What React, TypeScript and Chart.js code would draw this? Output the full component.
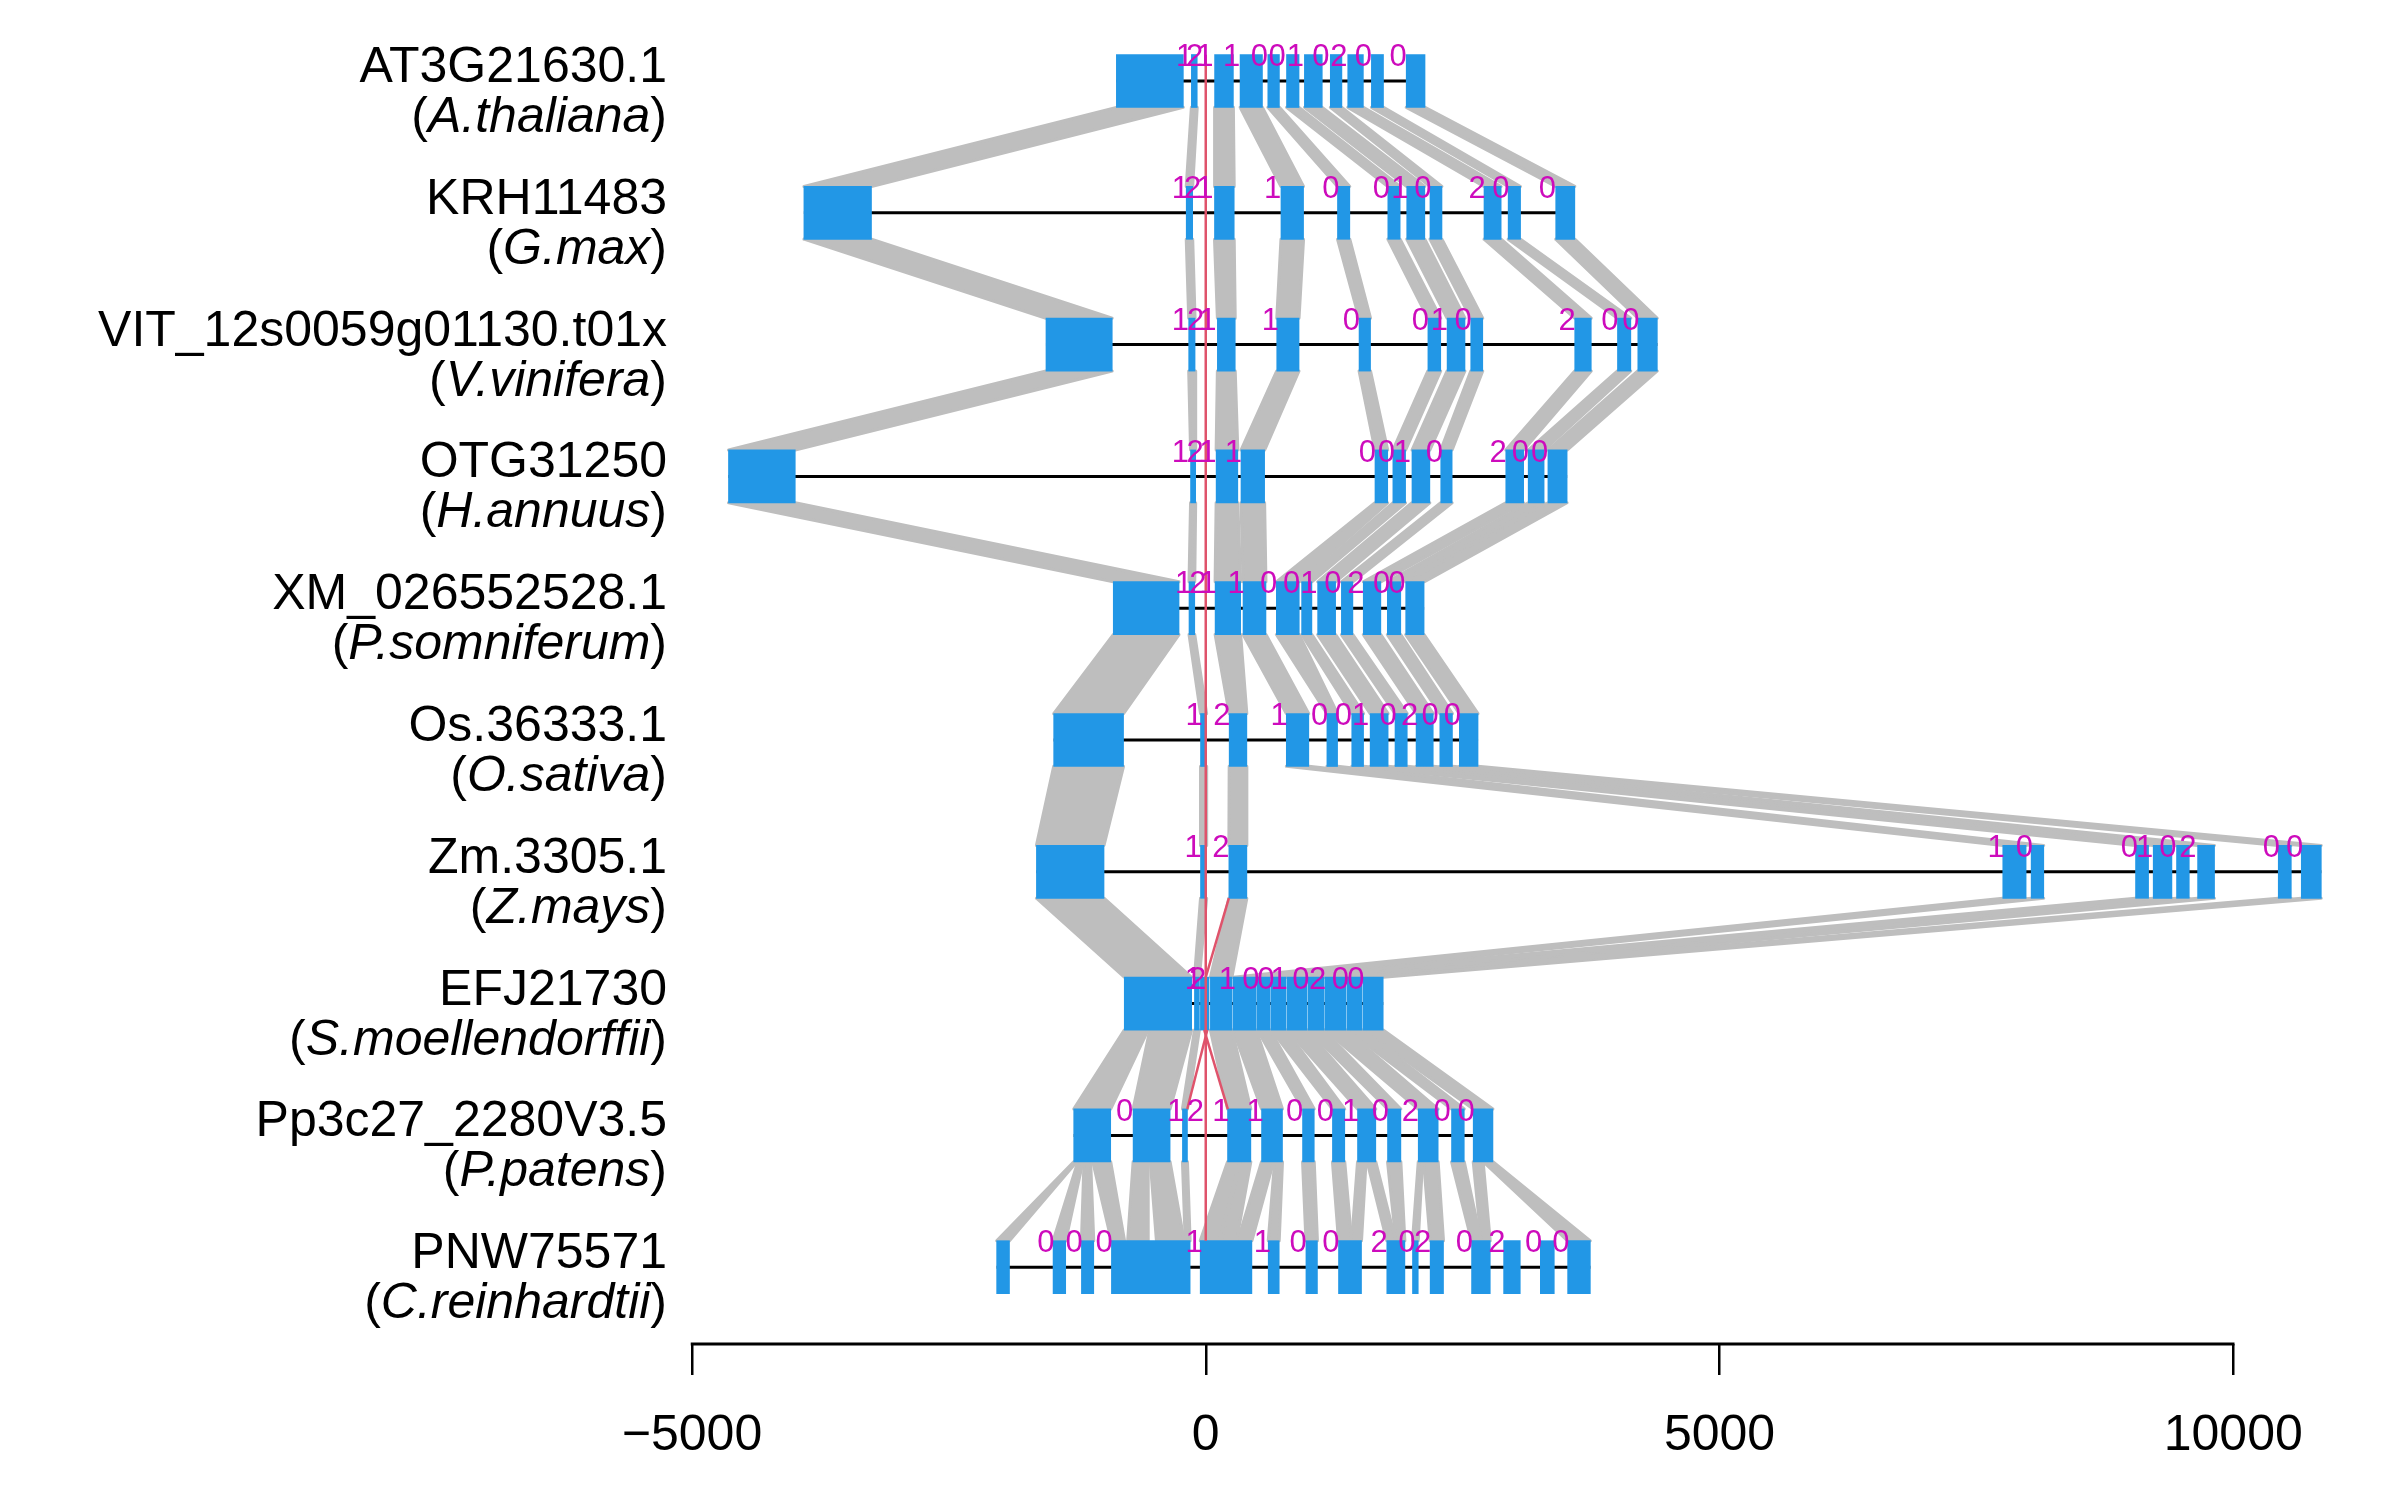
import React, { useEffect, useRef } from 'react';
import { Chart, registerables } from 'chart.js';

Chart.register(...registerables);

const FONT = "'Liberation Sans', Arial, Helvetica, sans-serif";

const GENES = ['AT3G21630.1', 'KRH11483', 'VIT_12s0059g01130.t01x', 'OTG31250', 'XM_026552528.1', 'Os.36333.1', 'Zm.3305.1', 'EFJ21730', 'Pp3c27_2280V3.5', 'PNW75571'];
const SPECIES = ['A.thaliana', 'G.max', 'V.vinifera', 'H.annuus', 'P.somniferum', 'O.sativa', 'Z.mays', 'S.moellendorffii', 'P.patens', 'C.reinhardtii'];

const TICKS = [-5000, 0, 5000, 10000];

// exon [start, end] per gene
const EXONS_AT = [[-870, -218], [-140, -83], [86, 269], [334, 552], [604, 717], [786, 908], [960, 1134], [1212, 1325], [1382, 1534], [1612, 1730], [1951, 2134]];
const EXONS_KRH = [[-3911, -3253], [-190, -127], [85, 277], [732, 952], [1282, 1402], [1772, 1892], [1956, 2132], [2182, 2299], [2708, 2875], [2943, 3064], [3406, 3592]];
const EXONS_VIT = [[-1555, -910], [-166, -104], [113, 287], [691, 908], [1492, 1604], [2162, 2287], [2349, 2523], [2579, 2696], [3591, 3752], [4007, 4137], [4205, 4395]];
const EXONS_OTG = [[-4645, -3995], [-148, -98], [101, 312], [343, 573], [1647, 1771], [1821, 1945], [2007, 2181], [2287, 2398], [2920, 3094], [3138, 3293], [3330, 3517]];
const EXONS_XM = [[-900, -260], [-163, -107], [91, 340], [363, 586], [687, 910], [933, 1033], [1089, 1264], [1320, 1432], [1533, 1704], [1767, 1898], [1946, 2125]];
const EXONS_OS = [[-1480, -800], [-51, 9], [228, 400], [784, 1003], [1179, 1283], [1421, 1536], [1600, 1775], [1842, 1961], [2047, 2214], [2278, 2401], [2468, 2650]];
const EXONS_ZM = [[-1648, -990], [-51, 9], [225, 400], [7757, 7984], [8033, 8156], [9049, 9176], [9221, 9403], [9448, 9572], [9653, 9818], [10438, 10565], [10662, 10857]];
const EXONS_EFJ = [[-793, -137], [-110, -62], [-52, 32], [45, 255], [265, 492], [502, 628], [638, 781], [791, 985], [995, 1148], [1158, 1365], [1375, 1521], [1531, 1727]];
const EXONS_PP = [[-1285, -925], [-707, -347], [-227, -178], [212, 439], [543, 747], [942, 1056], [1233, 1353], [1477, 1655], [1769, 1899], [2068, 2262], [2392, 2516], [2603, 2795]];
const EXONS_PNW = [[-2035, -1910], [-1486, -1363], [-1210, -1090], [-918, -152], [-54, 449], [608, 715], [975, 1087], [1292, 1516], [1762, 1938], [2012, 2068], [2184, 2314], [2587, 2769], [2899, 3061], [3256, 3392], [3522, 3743]];
const EXONS = [EXONS_AT, EXONS_KRH, EXONS_VIT, EXONS_OTG, EXONS_XM, EXONS_OS, EXONS_ZM, EXONS_EFJ, EXONS_PP, EXONS_PNW];

// intron phase labels [position, text]
const PH_AT = [[-205, '1'], [-109, '2'], [-9, '1'], [252, '1'], [521, '0'], [695, '0'], [873, '1'], [1121, '0'], [1295, '2'], [1534, '0'], [1873, '0']];
const PH_KRH = [[-248, '1'], [-127, '2'], [-9, '1'], [652, '1'], [1217, '0'], [1708, '0'], [1890, '1'], [2112, '0'], [2642, '2'], [2873, '0'], [3325, '0']];
const PH_VIT = [[-247, '1'], [-98, '2'], [20, '1'], [629, '1'], [1417, '0'], [2088, '0'], [2274, '1'], [2504, '0'], [3516, '2'], [3932, '0'], [4137, '0']];
const PH_OTG = [[-247, '1'], [-104, '2'], [20, '1'], [268, '1'], [1572, '0'], [1759, '0'], [1914, '1'], [2225, '0'], [2846, '2'], [3063, '0'], [3250, '0']];
const PH_XM = [[-215, '1'], [-77, '2'], [24, '1'], [296, '1'], [612, '0'], [836, '0'], [1003, '1'], [1238, '0'], [1462, '2'], [1711, '0'], [1860, '0']];
const PH_OS = [[-114, '1'], [158, '2'], [713, '1'], [1108, '0'], [1339, '0'], [1507, '1'], [1775, '0'], [1983, '2'], [2184, '0'], [2401, '0']];
const PH_ZM = [[-122, '1'], [146, '2'], [7692, '1'], [7968, '0'], [8990, '0'], [9137, '1'], [9364, '0'], [9559, '2'], [10370, '0'], [10597, '0']];
const PH_EFJ = [[-120, '1'], [-80, '2'], [211, '1'], [439, '0'], [585, '0'], [715, '1'], [926, '0'], [1088, '2'], [1309, '0'], [1461, '0']];
const PH_PP = [[-790, '0'], [-290, '1'], [-100, '2'], [147, '1'], [480, '1'], [864, '0'], [1165, '0'], [1410, '1'], [1699, '0'], [1992, '2'], [2300, '0'], [2535, '0']];
const PH_PNW = [[-1557, '0'], [-1282, '0'], [-989, '0'], [-113, '1'], [552, '1'], [900, '0'], [1217, '0'], [1688, '2'], [1957, '0'], [2110, '2'], [2516, '0'], [2834, '2'], [3191, '0'], [3457, '0']];
const PHASES = [PH_AT, PH_KRH, PH_VIT, PH_OTG, PH_XM, PH_OS, PH_ZM, PH_EFJ, PH_PP, PH_PNW];

// exon index links Zm -> EFJ
const LINKS_ZM_EFJ = [[0, 0], [1, 1], [2, 3], [3, 4], [4, 5], [5, 6], [6, 7], [7, 8], [8, 9], [9, 10], [10, 11]];
// segment links EFJ -> Pp
const SEG_EFJ_PP = [
  [[-793, -560], [-1285, -925]], [[-545, -137], [-707, -347]], [[-110, -62], [-227, -178]], [[45, 255], [212, 439]],
  [[265, 492], [543, 747]], [[502, 628], [942, 1056]], [[638, 781], [1233, 1353]], [[791, 985], [1477, 1655]],
  [[995, 1148], [1769, 1899]], [[1158, 1365], [2068, 2262]], [[1375, 1521], [2392, 2516]], [[1531, 1727], [2603, 2795]],
];
// segment links Pp -> PNW
const SEG_PP_PNW = [
  [[-1285, -1255], [-2035, -1910]], [[-1245, -1195], [-1486, -1363]], [[-1185, -1120], [-1210, -1090]], [[-1100, -925], [-918, -790]],
  [[-707, -560], [-760, -560]], [[-540, -347], [-480, -210]], [[-227, -178], [-200, -152]], [[212, 330], [-54, 130]],
  [[340, 439], [150, 300]], [[543, 660], [310, 449]], [[670, 747], [608, 715]], [[942, 1056], [975, 1087]],
  [[1233, 1353], [1292, 1420]], [[1477, 1560], [1420, 1516]], [[1570, 1655], [1762, 1850]], [[1769, 1899], [1850, 1938]],
  [[2068, 2110], [2012, 2068]], [[2120, 2262], [2184, 2314]], [[2392, 2516], [2587, 2680]], [[2603, 2700], [2680, 2769]],
  [[2700, 2795], [3522, 3743]],
];

// red guide paths: [position, row coordinate]
const RED_PATHS = [
  [[0, 0.8], [0, 9.8]],
  [[225, 7.2], [0, 7.8]],
  [[15, 8.2], [-180, 8.8]],
  [[-15, 8.2], [215, 8.8]],
];

const HALF = 0.2;
const BLUE = '#2297E6';
const GREY = '#BEBEBE';
const RED = '#DF536B';
const MAGENTA = '#CD0BBC';

export default function App() {
  const ref = useRef<HTMLCanvasElement | null>(null);

  useEffect(() => {
    const canvas = ref.current;
    if (!canvas) return;
    const rowY = (k: number) => k + 1;

    const exonData: any[] = [];
    EXONS.forEach((ex, k) => ex.forEach(([s, e]) => exonData.push({ x: [s, e], y: rowY(k) })));

    const conns: any[] = [];
    for (let k = 0; k < 6; k++) {
      EXONS[k].forEach((a, i) => conns.push([k, a, EXONS[k + 1][i]]));
    }
    LINKS_ZM_EFJ.forEach(([i, j]) => conns.push([6, EXONS_ZM[i], EXONS_EFJ[j]]));
    SEG_EFJ_PP.forEach(([a, b]) => conns.push([7, a, b]));
    SEG_PP_PNW.forEach(([a, b]) => conns.push([8, a, b]));

    const connDatasets = conns.map(([k, a, b]) => ({
      type: 'scatter',
      showLine: true,
      fill: 'shape',
      backgroundColor: GREY,
      borderColor: GREY,
      borderWidth: 3,
      borderJoinStyle: 'round',
      borderCapStyle: 'round',
      pointRadius: 0,
      order: 3,
      data: [
        { x: a[0], y: rowY(k) + HALF },
        { x: a[1], y: rowY(k) + HALF },
        { x: b[1], y: rowY(k + 1) - HALF },
        { x: b[0], y: rowY(k + 1) - HALF },
        { x: a[0], y: rowY(k) + HALF },
      ],
    }));

    const intronDatasets = EXONS.map((ex, k) => ({
      type: 'scatter',
      showLine: true,
      borderColor: '#000',
      borderWidth: 3,
      pointRadius: 0,
      fill: false,
      order: 2,
      data: [{ x: ex[0][0], y: rowY(k) }, { x: ex[ex.length - 1][1], y: rowY(k) }],
    }));

    const redDatasets = RED_PATHS.map((p) => ({
      type: 'scatter',
      showLine: true,
      borderColor: RED,
      borderWidth: 2.5,
      pointRadius: 0,
      fill: false,
      order: 0,
      data: p.map(([x, y]) => ({ x, y })),
    }));

    const exonDataset = {
      type: 'bar',
      indexAxis: 'y',
      data: exonData,
      backgroundColor: BLUE,
      borderWidth: 0,
      barThickness: 53,
      order: 1,
    };

    const labelPlugin = {
      id: 'geneLabels',
      afterDatasetsDraw(chart: any) {
        const ctx = chart.ctx;
        const xs = chart.scales.x;
        const ys = chart.scales.y;
        const area = chart.chartArea;
        ctx.save();
        // axis line from first to last tick
        ctx.strokeStyle = '#000';
        ctx.lineWidth = 3;
        ctx.beginPath();
        ctx.moveTo(xs.getPixelForValue(TICKS[0]) - 1.25, area.bottom);
        ctx.lineTo(xs.getPixelForValue(TICKS[TICKS.length - 1]) + 1.25, area.bottom);
        ctx.stroke();

        // phase labels
        ctx.fillStyle = MAGENTA;
        ctx.font = `31px ${FONT}`;
        ctx.textAlign = 'center';
        ctx.textBaseline = 'middle';
        PHASES.forEach((list, k) => {
          list.forEach(([v, t]) => {
            ctx.fillText(String(t), xs.getPixelForValue(v as number), ys.getPixelForValue(rowY(k) - HALF) + 3);
          });
        });

        // row labels
        const right = area.left - 25;
        ctx.fillStyle = '#000';
        ctx.textBaseline = 'alphabetic';
        GENES.forEach((g, k) => {
          const py = ys.getPixelForValue(rowY(k));
          ctx.font = `50px ${FONT}`;
          ctx.textAlign = 'right';
          ctx.fillText(g, right, py + 1);
          const sp = SPECIES[k];
          const wOpen = ctx.measureText('(').width;
          const wClose = ctx.measureText(')').width;
          ctx.font = `italic 50px ${FONT}`;
          const wSp = ctx.measureText(sp).width;
          const x0 = right - wClose - wSp - wOpen;
          const by = py + 51;
          ctx.textAlign = 'left';
          ctx.font = `50px ${FONT}`;
          ctx.fillText('(', x0, by);
          ctx.font = `italic 50px ${FONT}`;
          ctx.fillText(sp, x0 + wOpen, by);
          ctx.font = `50px ${FONT}`;
          ctx.fillText(')', x0 + wOpen + wSp, by);
        });
        ctx.restore();
      },
    };

    const chart = new Chart(canvas, {
      type: 'scatter',
      data: { datasets: [...redDatasets, exonDataset, ...intronDatasets, ...connDatasets] as any },
      options: {
        responsive: false,
        devicePixelRatio: 1,
        animation: false,
        events: [],
        layout: { padding: { left: 684, right: 56, top: 0, bottom: 0 } },
        plugins: { legend: { display: false }, tooltip: { enabled: false } },
        scales: {
          x: {
            type: 'linear',
            min: -5000,
            max: 11000,
            offset: false,
            afterBuildTicks: (s: any) => {
              s.ticks = TICKS.map((v) => ({ value: v }));
            },
            afterFit: (s: any) => {
              s.height = 148;
            },
            grid: { display: true, drawOnChartArea: false, drawTicks: true, tickLength: 31, color: '#000', lineWidth: 2.5, offset: false },
            border: { display: false },
            ticks: {
              autoSkip: false,
              maxRotation: 0,
              padding: 31,
              color: '#000',
              font: { family: FONT, size: 50 },
              callback: (v: any) => (Number(v) < 0 ? '\u2212' + Math.abs(Number(v)) : String(v)),
            },
          },
          y: {
            type: 'linear',
            display: false,
            reverse: true,
            min: 0.4461,
            max: 10.5827,
            offset: false,
            grid: { offset: false },
          },
        },
      } as any,
      plugins: [labelPlugin],
    });

    return () => chart.destroy();
  }, []);

  return (
    <canvas
      ref={ref}
      width={2384}
      height={1484}
      style={{ display: 'block', width: '2384px', height: '1484px' }}
    />
  );
}
